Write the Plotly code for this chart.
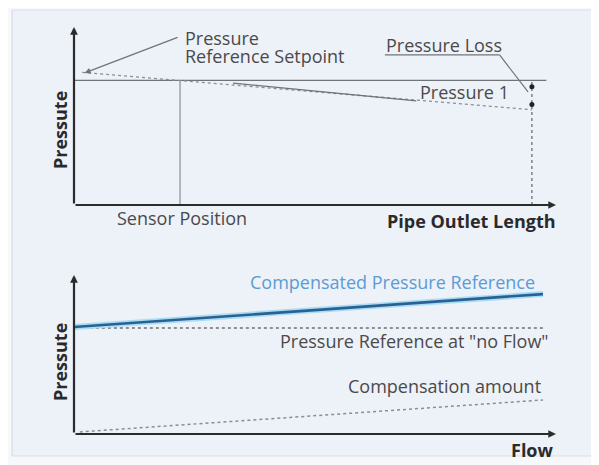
import plotly.graph_objects as go

# the page body adds an 8px margin, so the figure is 8px smaller and coordinates shifted
OFF = 8
W, H = 599 - OFF, 465 - OFF

# ---- data (schematic units, 0..100 on each axis) ----
# Top chart: pressure along the pipe outlet
setpoint_x = [0, 98]
setpoint_y = [70, 70]
drop_x = [1.7, 95]
drop_y = [74.5, 53.5]
p1_leader_x = [33, 71]
p1_leader_y = [68.5, 58.5]
sensor_x = [22, 22]
sensor_y = [0, 70]
outlet_x = [95, 95]
outlet_y = [0, 70]
points_x = [95, 95]
points_y = [66.5, 56.5]

# Bottom chart: pressure reference vs flow
flow_x = [0, 97.3]
comp_ref_y = [67.3, 88]
noflow_x = [0.8, 97.3]
noflow_y = [66.7, 66.7]
comp_amt_x = [1.2, 97.3]
comp_amt_y = [1.3, 21.4]

def px(x):
    return (x - OFF) / W

def py(y):
    return 1 - (y - OFF) / H

fig = go.Figure()
TXT = "#4a4a4a"
LINE = "#707478"

# top chart traces (axes x/y)
fig.add_trace(go.Scatter(x=setpoint_x, y=setpoint_y, mode="lines",
                         line=dict(color=LINE, width=1.3), xaxis="x", yaxis="y"))
fig.add_trace(go.Scatter(x=drop_x, y=drop_y, mode="lines",
                         line=dict(color="#8a8e94", width=1.3, dash="dot"), xaxis="x", yaxis="y"))
fig.add_trace(go.Scatter(x=p1_leader_x, y=p1_leader_y, mode="lines",
                         line=dict(color=LINE, width=1.2), xaxis="x", yaxis="y"))
fig.add_trace(go.Scatter(x=sensor_x, y=sensor_y, mode="lines",
                         line=dict(color="#8a8e94", width=1.2), xaxis="x", yaxis="y"))
fig.add_trace(go.Scatter(x=outlet_x, y=outlet_y, mode="lines",
                         line=dict(color="#6a6e74", width=1.3, dash="dot"), xaxis="x", yaxis="y"))
fig.add_trace(go.Scatter(x=points_x, y=points_y, mode="markers",
                         marker=dict(color="#222", size=5), xaxis="x", yaxis="y"))

# bottom chart traces (axes x2/y2)
fig.add_trace(go.Scatter(x=noflow_x, y=noflow_y, mode="lines",
                         line=dict(color="#6a6e74", width=1.5, dash="dot"), xaxis="x2", yaxis="y2"))
fig.add_trace(go.Scatter(x=comp_amt_x, y=comp_amt_y, mode="lines",
                         line=dict(color="#8a8e94", width=1.5, dash="dot"), xaxis="x2", yaxis="y2"))
fig.add_trace(go.Scatter(x=flow_x, y=comp_ref_y, mode="lines",
                         line=dict(color="#a9dcf5", width=6), xaxis="x2", yaxis="y2"))
fig.add_trace(go.Scatter(x=flow_x, y=comp_ref_y, mode="lines",
                         line=dict(color="#2a6192", width=2.6), xaxis="x2", yaxis="y2"))

ann = []
# axis arrows
for xr, yr in (("x", "y"), ("x2", "y2")):
    ann.append(dict(x=0, y=100, ax=0, ay=0, xref=xr, yref=yr, axref=xr, ayref=yr,
                    showarrow=True, arrowhead=2, arrowsize=0.7, arrowwidth=2.2,
                    arrowcolor="#2b2b2b", text=""))
    ann.append(dict(x=100, y=0, ax=0, ay=0, xref=xr, yref=yr, axref=xr, ayref=yr,
                    showarrow=True, arrowhead=2, arrowsize=0.7, arrowwidth=2.2,
                    arrowcolor="#2b2b2b", text=""))

# leader: Pressure Reference Setpoint
ann.append(dict(x=2.2, y=74.2, ax=21.8, ay=94.5, xref="x", yref="y", axref="x", ayref="y",
                showarrow=True, arrowhead=2, arrowsize=1, arrowwidth=1.2,
                arrowcolor=LINE, text=""))
# Pressure Loss leader: underline + slanted
fig.add_shape(type="line", xref="x", yref="y", x0=64.5, y0=84.3, x1=88.3, y1=84.3,
              line=dict(color=LINE, width=1.2))
fig.add_shape(type="line", xref="x", yref="y", x0=88.3, y0=84.3, x1=94.2, y1=63.5,
              line=dict(color=LINE, width=1.2))

FONT = "Open Sans"
def txt(text, x, y, anchor="left", size=18, color=TXT, bold=False, angle=0):
    if bold:
        text = "<b>" + text + "</b>"
    ann.append(dict(text=text, x=px(x), y=py(y), xref="paper", yref="paper",
                    xanchor=anchor, yanchor="middle", showarrow=False, textangle=angle,
                    font=dict(family=FONT, size=size, color=color)))

txt("Pressure", 183, 38)
txt("Reference Setpoint", 183, 56)
txt("Pressure Loss", 384, 45)
txt("Pressure 1", 418, 92)
txt("Sensor Position", 115, 218)
txt("Pipe Outlet Length", 558, 221, anchor="right", bold=True, color="#2a2a2a")
txt("Pressute", 60, 130, anchor="center", bold=True, color="#2a2a2a", angle=-90)
txt("Compensated Pressure Reference", 248, 282, color="#5b9bd5")
txt("Pressure Reference at \"no Flow\"", 278, 341)
txt("Compensation amount", 346, 386)
txt("Flow", 556, 450, anchor="right", bold=True, color="#2a2a2a")
txt("Pressute", 60, 362, anchor="center", bold=True, color="#2a2a2a", angle=-90)

# panel background
fig.add_shape(type="rect", xref="paper", yref="paper", x0=px(12), x1=px(592),
              y0=py(456), y1=py(10), fillcolor="#edf1f8",
              line=dict(color="#d9dde4", width=1.2), layer="below")

ax_common = dict(range=[0, 100], visible=False, fixedrange=True)
fig.update_layout(
    width=W, height=H,
    margin=dict(l=0, r=0, t=0, b=0),
    paper_bgcolor="#f7f8fa",
    plot_bgcolor="rgba(0,0,0,0)",
    showlegend=False,
    xaxis=dict(domain=[px(74), px(556)], anchor="y", **ax_common),
    yaxis=dict(domain=[py(205), py(27)], anchor="x", **ax_common),
    xaxis2=dict(domain=[px(74), px(556)], anchor="y2", **ax_common),
    yaxis2=dict(domain=[py(434), py(275)], anchor="x2", **ax_common),
    annotations=ann,
)

fig.write_html("out.html")
